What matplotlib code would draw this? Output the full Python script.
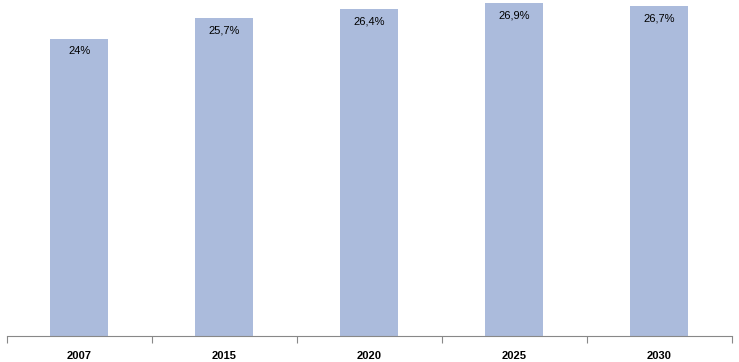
import matplotlib.pyplot as plt
import numpy as np

years = ['2007', '2015', '2020', '2025', '2030']
values = [24.0, 25.7, 26.4, 26.9, 26.7]
labels = ['24%', '25,7%', '26,4%', '26,9%', '26,7%']

plt.rcParams['font.family'] = ['Liberation Sans', 'DejaVu Sans']

fig = plt.figure(figsize=(7.39, 3.62), dpi=100)
ax = fig.add_axes([7 / 739, 26 / 362, 725 / 739, 336 / 362])

x = np.arange(len(years))
ax.bar(x, values, width=0.4, color='#abbbdc')

# value labels just inside the top of each bar
for xi, v, lab in zip(x, values, labels):
    ax.annotate(lab, (xi, v), xytext=(0, -9), textcoords='offset points',
                ha='center', va='center', fontsize=8, color='black')

ax.set_xlim(-0.5, len(years) - 0.5)
ax.set_ylim(0, 27.15)

for side in ['top', 'right', 'left']:
    ax.spines[side].set_visible(False)
ax.spines['bottom'].set_color('#888888')
ax.spines['bottom'].set_linewidth(0.8)

ax.set_yticks([])
ax.set_xticks(np.arange(-0.5, len(years) + 0.5, 1))
ax.set_xticklabels([])
ax.set_xticks(x, minor=True)
ax.set_xticklabels(years, minor=True, fontsize=8, fontweight='bold')
ax.tick_params(axis='x', which='major', length=5, color='#888888', width=0.8)
ax.tick_params(axis='x', which='minor', length=0, pad=11)

fig.savefig('out.png', dpi=100)
